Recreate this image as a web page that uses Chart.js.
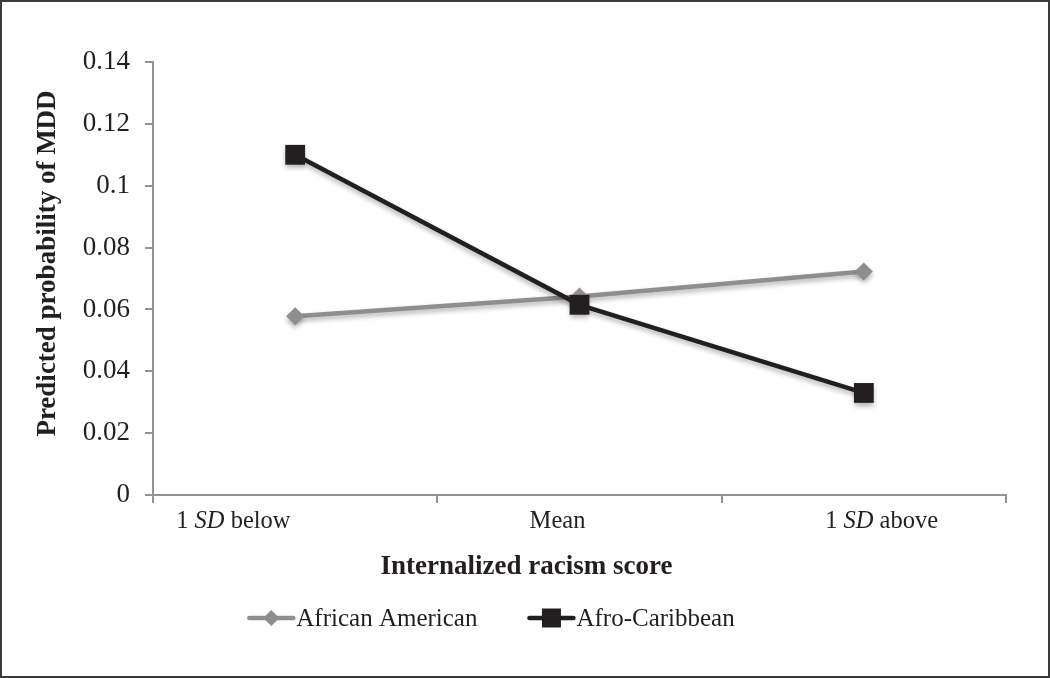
<!DOCTYPE html>
<html>
<head>
<meta charset="utf-8">
<script src="https://cdn.jsdelivr.net/npm/chart.js@4.4.1/dist/chart.umd.min.js"></script>
<style>
  body { margin: 0; background: #fff; }
  #wrap { width: 1050px; height: 678px; position: relative; }
  canvas { outline: 2px solid #3a3a3a; outline-offset: -2px; }
</style>
</head>
<body>
<div id="wrap"><canvas id="chart" width="1050" height="678"></canvas></div>
<script>
const categories = [['1 ', 'SD', ' below'], ['Mean'], ['1 ', 'SD', ' above']];
const africanAmerican = [0.0578, 0.0642, 0.0723];
const afroCaribbean = [0.110, 0.0615, 0.033];
const yTicks = [0, 0.02, 0.04, 0.06, 0.08, 0.1, 0.12, 0.14];
const xTitle = 'Internalized racism score';
const yTitle = 'Predicted probability of MDD';

const FONT = '"Liberation Serif", "Times New Roman", serif';
const TEXT = '#231f20';
const GRAY = '#8e8e8e';
const BLACK = '#231f20';
const AXIS = '#939393';

// labels as plain strings for the scale, italic parts drawn by plugin
const plainLabels = categories.map(c => c.join(''));

const labelPlugin = {
    id: 'mixedLabels',
    beforeDatasetsDraw(chart) {
        const ctx = chart.ctx;
        ctx.save();
        ctx.shadowColor = 'rgba(0,0,0,0.3)';
        ctx.shadowBlur = 5;
        ctx.shadowOffsetY = 3;
    },
    afterDatasetsDraw(chart) {
        chart.ctx.restore();
    },
    afterDraw(chart) {
        const ctx = chart.ctx;
        const xs = chart.scales.x;
        const area = chart.chartArea;
        const mid = (area.left + area.right) / 2;
        ctx.save();
        ctx.fillStyle = TEXT;
        ctx.textBaseline = 'middle';
        ctx.textAlign = 'left';
        // category labels sit a bit spread out and left of the points, as in the original
        categories.forEach((parts, i) => {
            const cx = mid - 22 + (xs.getPixelForTick(i) - mid) * 1.14;
            const fonts = parts.map((p, j) => (parts.length === 3 && j === 1 ? 'italic ' : '') + '24.5px ' + FONT);
            let total = 0;
            const widths = parts.map((p, j) => { ctx.font = fonts[j]; const w = ctx.measureText(p).width; total += w; return w; });
            let x = cx - total / 2;
            parts.forEach((p, j) => { ctx.font = fonts[j]; ctx.fillText(p, x, 522); x += widths[j]; });
        });

        // axis titles
        ctx.textAlign = 'center';
        ctx.font = 'bold 27px ' + FONT;
        ctx.fillText(xTitle, mid - 53, 567);
        ctx.save();
        ctx.translate(48, (area.top + area.bottom) / 2 - 15);
        ctx.rotate(-Math.PI / 2);
        ctx.fillText(yTitle, 0, 0);
        ctx.restore();

        // legend: line with marker, then name
        ctx.textAlign = 'left';
        const items = [
            { label: 'African American', color: GRAY, style: 'diamond' },
            { label: 'Afro-Caribbean', color: BLACK, style: 'square' }
        ];
        const y = 618;
        const lineLen = 44;
        ctx.font = '25px ' + FONT;
        const gap = 52;
        let total = 0;
        items.forEach(it => { it.w = lineLen + 3 + ctx.measureText(it.label).width; total += it.w; });
        total += gap;
        let x = 492 - total / 2;
        items.forEach(it => {
            ctx.strokeStyle = it.color;
            ctx.fillStyle = it.color;
            ctx.lineWidth = 4.5;
            ctx.lineCap = 'round';
            ctx.beginPath();
            ctx.moveTo(x, y);
            ctx.lineTo(x + lineLen, y);
            ctx.stroke();
            const mx = x + lineLen / 2;
            ctx.beginPath();
            if (it.style === 'diamond') {
                ctx.moveTo(mx, y - 8); ctx.lineTo(mx + 8, y); ctx.lineTo(mx, y + 8); ctx.lineTo(mx - 8, y);
            } else {
                ctx.rect(mx - 9.5, y - 9.5, 19, 19);
            }
            ctx.closePath();
            ctx.fill();
            ctx.fillStyle = TEXT;
            ctx.fillText(it.label, x + lineLen + 3, y + 1);
            x += it.w + gap;
        });
        ctx.restore();
    }
};

new Chart(document.getElementById('chart'), {
    type: 'line',
    data: {
        labels: plainLabels,
        datasets: [
            {
                label: 'African American',
                data: africanAmerican,
                borderColor: GRAY,
                backgroundColor: GRAY,
                borderWidth: 4.5,
                pointStyle: 'rectRot',
                pointRadius: 9,
                pointBorderWidth: 0,
                order: 1
            },
            {
                label: 'Afro-Caribbean',
                data: afroCaribbean,
                borderColor: BLACK,
                backgroundColor: BLACK,
                borderWidth: 4.5,
                pointStyle: 'rect',
                pointRadius: 14,
                pointBorderWidth: 0,
                order: 0
            }
        ]
    },
    options: {
        responsive: false,
        animation: false,
        layout: { padding: { left: 0, right: 44, top: 62, bottom: 88 } },
        plugins: { legend: { display: false }, tooltip: { enabled: false } },
        scales: {
            x: {
                offset: true,
                grid: { offset: true, drawOnChartArea: false, drawTicks: true, tickLength: 8, color: AXIS, lineWidth: 2 },
                border: { color: AXIS, width: 2 },
                ticks: { color: 'rgba(0,0,0,0)', font: { family: FONT, size: 24.5 }, padding: 6, maxRotation: 0 },
                title: { display: false, text: xTitle },
                afterFit(scale) { scale.height = 95; }
            },
            y: {
                min: 0,
                max: 0.14,
                afterBuildTicks(scale) { scale.ticks = yTicks.map(v => ({ value: v })); },
                grid: { drawOnChartArea: false, drawTicks: true, tickLength: 8, color: AXIS, lineWidth: 2 },
                border: { color: AXIS, width: 2 },
                ticks: { color: TEXT, font: { family: FONT, size: 27 }, padding: 15, callback: v => String(+v.toFixed(2)) },
                title: { display: false, text: yTitle },
                afterFit(scale) { scale.width = 153; }
            }
        }
    },
    plugins: [labelPlugin]
});
</script>
</body>
</html>
